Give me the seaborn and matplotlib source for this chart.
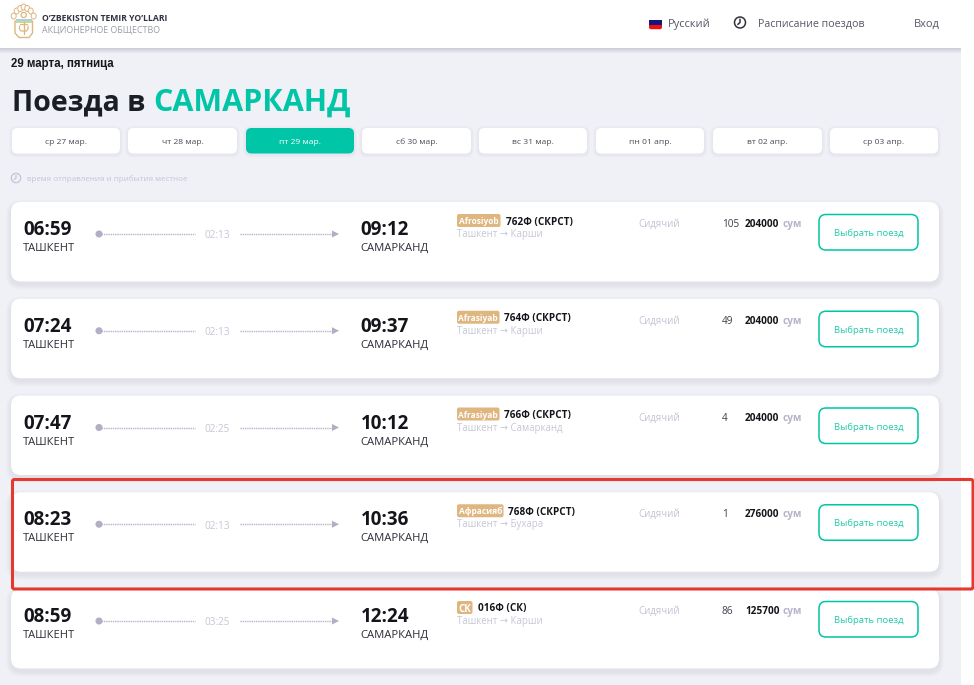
import matplotlib
matplotlib.use('Agg')
import matplotlib.pyplot as plt
from matplotlib.patches import FancyBboxPatch, Rectangle, Circle, Polygon, Ellipse
import pandas as pd
import seaborn as sns

# page texts
date_title = '29 марта, пятница'
title_dark = 'Поезда в'
title_city = 'САМАРКАНД'
day_tabs = ['ср 27 мар.', 'чт 28 мар.', 'пт 29 мар.', 'сб 30 мар.',
            'вс 31 мар.', 'пн 01 апр.', 'вт 02 апр.', 'ср 03 апр.']
active_tab = 2

# trains
depart = ['06:59', '07:24', '07:47', '08:23', '08:59']
arrive = ['09:12', '09:37', '10:12', '10:36', '12:24']
duration = ['02:13', '02:13', '02:25', '02:13', '03:25']
brands = ['Afrosiyob', 'Afrasiyab', 'Afrasiyab', 'Афрасияб', 'СК']
numbers = ['762Ф (СКРСТ)', '764Ф (СКРСТ)', '766Ф (СКРСТ)', '768Ф (СКРСТ)', '016Ф (СК)']
routes = ['Ташкент → Карши', 'Ташкент → Карши', 'Ташкент → Самарканд',
          'Ташкент → Бухара', 'Ташкент → Карши']
seats = [105, 49, 4, 1, 86]
prices = [204000, 204000, 204000, 276000, 125700]

GREEN = '#00c5a6'
PAGE = '#f0f1f7'
DARK = '#1c1e26'
GOLD = '#dfb67f'
FONT = ['Open Sans', 'DejaVu Sans']

sns.set_theme(style='white')
plt.rcParams['font.family'] = FONT

fig = plt.figure(figsize=(9.74, 6.85), dpi=100, facecolor='white')
ax = fig.add_axes([0, 0, 1, 1])
ax.set_xlim(0, 974)
ax.set_ylim(685, 0)
ax.axis('off')


def txt(x, y, s, size, color=DARK, weight='normal', ha='left', family=None, z=5):
    ax.text(x, y, s, fontsize=size, color=color, fontweight=weight, ha=ha, va='center_baseline',
            family=family or FONT, zorder=z)


def box(x0, y0, x1, y1, r, fc, ec='none', lw=0, z=2, alpha=None):
    ax.add_patch(FancyBboxPatch((x0, y0), x1 - x0, y1 - y0, boxstyle=f'round,pad=0,rounding_size={r}',
                                fc=fc, ec=ec, lw=lw, zorder=z, alpha=alpha))


def shadow(x0, y0, x1, y1, r, spread=5, dy=3, strength=0.016):
    for s in range(spread, 0, -1):
        box(x0 - s, y0 - s + dy, x1 + s, y1 + s + dy, r + s, '#50506e', z=1.5, alpha=strength)


def clock(cx, cy, rad, color, lw):
    ax.add_patch(Circle((cx, cy), rad, fc='none', ec=color, lw=lw, zorder=5))
    ax.plot([cx, cx, cx - rad * 0.4], [cy - rad * 0.6, cy, cy + rad * 0.35], color=color, lw=lw, zorder=5)


# background, white strip to the right of the page
ax.add_patch(Rectangle((0, 48), 960.5, 637, fc=PAGE, ec='none', zorder=0))
for s in range(5, 0, -1):
    ax.add_patch(Rectangle((0, 48), 960.5, s, fc='#60607a', ec='none', alpha=0.05, zorder=0.5))
ax.add_patch(Rectangle((0, 0), 974, 48, fc='white', ec='none', zorder=1))

# logo
ax.add_patch(Polygon([(15, 21), (15, 33), (19, 37.5), (29, 37.5), (32.5, 33), (32.5, 21)],
                     closed=True, fc='white', ec=GOLD, lw=1.0, zorder=3))
for dx, dy in [(-10, 1), (-7, -4), (-3.5, -6.5), (0, -8), (3.5, -6.5), (7, -4), (10, 1)]:
    ax.add_patch(Ellipse((23.7 + dx, 15 + dy), 5, 6, fc='white', ec=GOLD, lw=0.7, zorder=3))
ax.add_patch(Rectangle((15.5, 19), 16.5, 2.2, fc='#a9cfe0', ec='none', zorder=4))
ax.add_patch(Rectangle((15.5, 21), 16.5, 1.5, fc='#c9d98f', ec='none', zorder=4))
ax.add_patch(Circle((23.7, 15), 2.6, fc='white', ec=GOLD, lw=0.9, zorder=4))
ax.plot([23.7, 23.7], [22, 34], color=GOLD, lw=1.0, zorder=4)
ax.plot([19.5, 19.5, 21, 26.4, 28, 28], [26, 29, 31, 31, 29, 26], color=GOLD, lw=0.9, zorder=4)
ax.plot([20, 27.4], [23.5, 23.5], color=GOLD, lw=0.9, zorder=4)

txt(42, 17.5, 'O’ZBEKISTON TEMIR YO’LLARI', 6.2, '#2f3240', 'bold')
txt(42, 29, 'АКЦИОНЕРНОЕ ОБЩЕСТВО', 6.4, '#9a9ca8')

# header right side
ax.add_patch(Rectangle((649, 20), 13, 4.6, fc='#16167a', ec='none', zorder=3))
box(649, 23, 662, 29.2, 2, '#f01010', z=3)
ax.add_patch(Rectangle((649, 23), 13, 1.6, fc='#16167a', ec='none', zorder=3))
txt(668, 22.5, 'Русский', 7.9, '#555762')
clock(740, 22.5, 5.5, '#30323c', 1.1)
txt(758, 22.5, 'Расписание поездов', 7.7, '#555762')
txt(914, 22.5, 'Вход', 7.9, '#555762')

# heading
txt(11, 62.5, date_title, 8.3, '#17181d', 'bold', family='Liberation Sans')
txt(11.5, 99, title_dark, 20.5, DARK, 'bold')
txt(153.5, 99, title_city, 22, GREEN, 'bold')

# date tabs
tab_x = [(12, 120), (128, 237), (246, 354), (362, 471), (479, 587), (596, 704), (713, 822), (830, 938)]
for i, (label, (x0, x1)) in enumerate(zip(day_tabs, tab_x)):
    shadow(x0, 128, x1, 153.5, 5, spread=3, dy=1, strength=0.018)
    box(x0, 128, x1, 153.5, 5.5, GREEN if i == active_tab else 'white')
    txt((x0 + x1) / 2, 141.5, label, 6.1, 'white' if i == active_tab else '#4a4c56', ha='center')

clock(16, 178, 4.7, '#c4c5d6', 0.9)
txt(27, 178, 'время отправления и прибытия местное', 5.8, '#c4c5d6')

# train cards
card_top = [202 + i * 96.75 for i in range(len(depart))]
rows = []
for i, top in enumerate(card_top):
    shadow(11, top, 939, top + 79.5, 10)
    box(11, top, 939, top + 79.5, 10, 'white')

    txt(23, top + 25.5, depart[i], 13.5, '#14151a', 'bold')
    txt(23, top + 45, 'ТАШКЕНТ', 8.0, '#2c2e38')
    txt(360.5, top + 25.5, arrive[i], 13.5, '#14151a', 'bold')
    txt(360.5, top + 45, 'САМАРКАНД', 8.15, '#2c2e38')

    y = top + 32
    ax.plot([99, 195], [y, y], color='#b6b5ca', lw=1, ls=(0, (1, 0.6)), zorder=4)
    ax.plot([240, 335], [y, y], color='#b6b5ca', lw=1, ls=(0, (1, 0.6)), zorder=4)
    txt(217.5, y + 0.3, duration[i], 7.2, '#c6c7d8', ha='center')
    rows.append({'x': 99, 'y': y, 'kind': 'start'})
    rows.append({'x': 335.5, 'y': y, 'kind': 'end'})

    # brand badge and train number
    bw = {'Afrosiyob': 43.5, 'Afrasiyab': 42.5, 'Афрасияб': 46.5, 'СК': 15.5}[brands[i]]
    box(457, top + 12, 457 + bw, top + 25, 2, GOLD, z=3)
    txt(457 + bw / 2, top + 18.5, brands[i], 7 if brands[i] == 'СК' else 6.0, 'white', 'bold', ha='center')
    txt(457 + bw + 5, top + 18.5, numbers[i], 7.2, '#14151a', 'bold')
    txt(457, top + 31, routes[i], 6.9, '#c6c7d8')

    txt(638, top + 21, 'Сидячий', 6.9, '#c2c2d4')
    txt(722, top + 21, str(seats[i]), 7.2, '#3e404a')
    txt(745, top + 21, str(prices[i]), 7.2, '#14151a', 'bold')
    txt(782.5, top + 21, 'сум', 7.2, '#b4b4c8', 'bold')

    box(819, top + 12.5, 918, top + 48, 7, 'white', ec=GREEN, lw=1.1, z=3)
    txt(868.5, top + 30.5, 'Выбрать поезд', 6.8, '#22c9a9', ha='center')

marks = pd.DataFrame(rows)
sns.scatterplot(data=marks, x='x', y='y', style='kind', markers={'start': 'o', 'end': '>'},
                s=26, color='#b0afc6', linewidth=0, legend=False, ax=ax, zorder=5)
ax.set_xlim(0, 974)
ax.set_ylim(685, 0)
ax.axis('off')

# red frame around the fourth train
box(12.5, 479.5, 973, 589, 2, 'none', ec='#e5392f', lw=2.2, z=8)

fig.savefig('out.png', dpi=100, facecolor='white')
